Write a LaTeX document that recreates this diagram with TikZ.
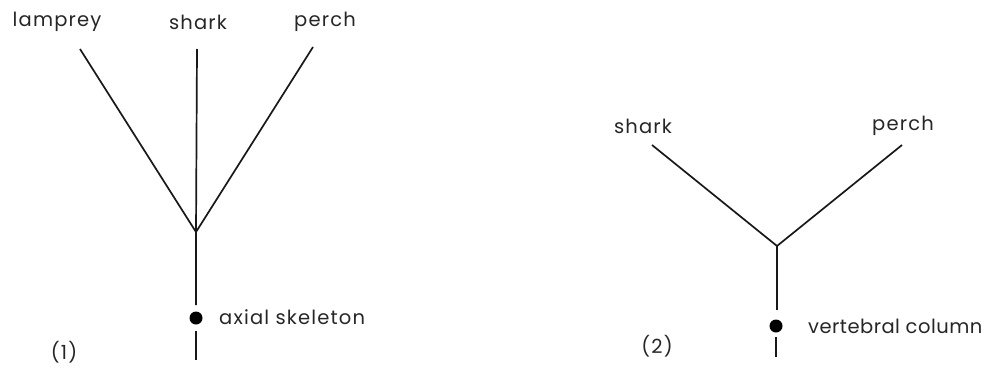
\documentclass[tikz,border=0pt]{standalone}
\usepackage{fontspec}
\setmainfont{Poppins}[LetterSpace=6]
\begin{document}
\begin{tikzpicture}[x=1pt,y=-1pt,
  branch/.style={line width=1.7pt,draw=black!90},
  taxon/.style={font=\fontsize{19.5}{22}\selectfont,text=black!85,inner sep=0pt},
  trait/.style={circle,fill=black,inner sep=0pt,minimum size=13pt},
  tag/.style={font=\fontsize{19.5}{22}\selectfont,text=black!85,inner sep=0pt,anchor=west}]
\useasboundingbox (0,0) rectangle (992,367);

% Tree (1)
\node[taxon] (lamprey) at (57,22) {lamprey};
\node[taxon] (shark1) at (198,22) {shark};
\node[taxon] (perch1) at (325,22) {perch};
\coordinate (l1) at (80,49);
\coordinate (s1) at (197,49);
\coordinate (p1) at (313,47);
\coordinate (j1) at (196,232);
\coordinate (r1) at (196,305);
\node[trait] (d1) at (196,318) {};
\coordinate (b1top) at (196,331);
\coordinate (b1) at (196,360);
\node[tag] (ax) at (219,317) {axial skeleton};
\node[taxon] (n1) at (64,352) {(1)};
\draw[branch] (l1) -- (j1) -- (p1);
\draw[branch] (s1) -- (j1) -- (r1);
\draw[branch] (b1top) -- (b1);

% Tree (2)
\node[taxon] (shark2) at (643,126) {shark};
\node[taxon] (perch2) at (903,126) {perch};
\coordinate (s2) at (652,145);
\coordinate (p2) at (902,145);
\coordinate (j2) at (777,246);
\coordinate (r2) at (777,310);
\node[trait] (d2) at (776,326) {};
\coordinate (b2top) at (776,337);
\coordinate (b2) at (776,357);
\node[tag] (vc) at (808,326) {\addfontfeature{LetterSpace=2.5}vertebral column};
\node[taxon] (n2) at (657,346) {(2)};
\draw[branch] (s2) -- (j2) -- (p2);
\draw[branch] (j2) -- (r2);
\draw[branch] (b2top) -- (b2);
\end{tikzpicture}
\end{document}
